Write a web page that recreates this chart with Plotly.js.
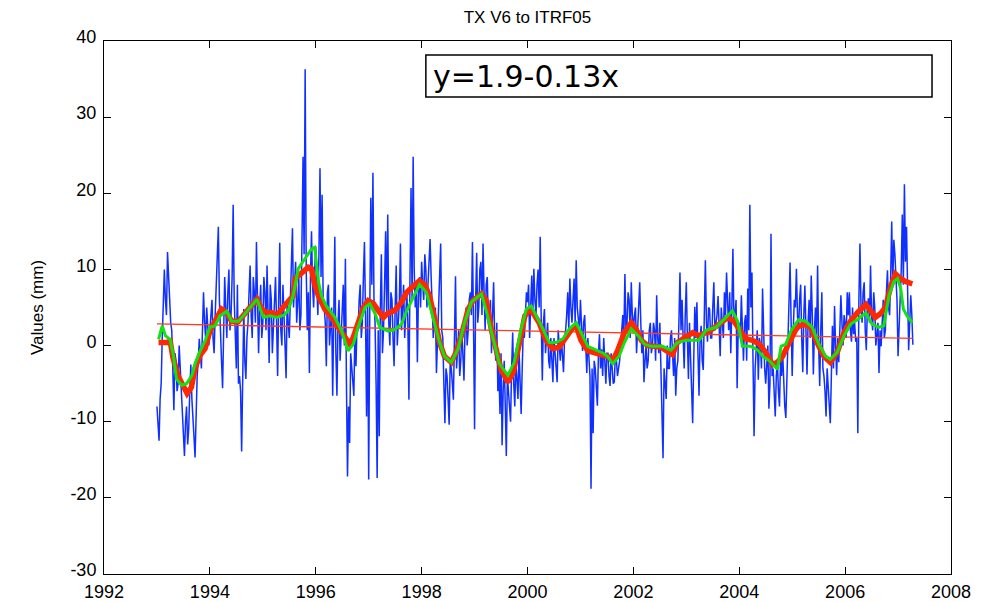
<!DOCTYPE html>
<html>
<head>
<meta charset="utf-8">
<script src="https://cdn.plot.ly/plotly-3.0.1.min.js"></script>
<style>html,body{margin:0;padding:0;background:#fff;}#chart{width:1000px;height:602px;}</style>
</head>
<body>
<div id="chart"></div>
<script>
// ---- data ----
var chartTitle = 'TX V6 to ITRF05';
var yAxisTitle = 'Values (mm)';
var fitLabel = 'y=1.9-0.13x';

var xTicks = [1992, 1994, 1996, 1998, 2000, 2002, 2004, 2006, 2008];
var xTickLabels = ['1992', '1994', '1996', '1998', '2000', '2002', '2004', '2006', '2008'];
var yTicks = [-30, -20, -10, 0, 10, 20, 30, 40];
var yTickLabels = ['-30', '-20', '-10', '0', '10', '20', '30', '40'];

// raw series: first sample time and sampling step (years)
var blueStart = 1993.0;
var blueStep = 0.04;
// samples at blueStart + i*blueStep
var blueValues = [
  // 1993
  -8, -12.5, -5, 5, 6, 12.3, 7, 2, -8.5, -2, -5, -3, -9.5, -14.5, -8, -11, -2.5, -9, -14.7, -4, 0.9, -3, 7, 1, 3,
  // 1994
  2, 6, -1, 8, 15.6, 3, -5.6, 9, 1, 10, 4, 18.5, 2, 8, -4, -13.9, 4.8, -4.4, 3, 10.5, 1, 7, 13.6, -1, 8,
  // 1995
  3, 7, 10.5, -2.3, 6, 2, 9, -4, 13.5, 0, 5, -4.3, 3, 6, 15.4, 8, 3, 8.8, 4, 24.8, 36.3, 2, -3.6, 15, 5,
  // 1996
  13, 4, 23.3, 19.8, 5, -2.7, 8, 2, -6.6, 14.3, -6.6, 6, 2, 8, 11.4, -17.2, -12.8, -3, -6.6, -2.7, 2, 8, 3, 13.6, -9.3,
  // 1997
  -17.6, 19.4, 22.7, 3, -17.4, -11.9, 12, 2, 15, 17.2, 0, 6, -2.7, 10.5, 3, 13.4, 5, 1, 7, -7.1, 20.7, 24.8, 5, -2.2, 9,
  // 1998
  11, 6, 10, 8, 14, 6, 3, -3.6, 4, 13.4, 1, -10.2, -4, -10.4, -3, -7.1, 9.1, -1, -4, 2, -4.6, 5, 2, 7, 13.6,
  // 1999
  -11, 12.2, 5, 11, 13.4, 2, 9, 4, -1, 8.3, -2, -6, -9, -13.1, -2, -14.5, -6, -10, 1.7, -8, -4.4, -0.4, -9, 2, 4,
  // 2000
  5.7, 1, 9.2, 10.1, 4, 10, 14.3, -4.6, 4.8, 1, -2, 1, -4.8, -1, -4.8, 0, 1, -3.5, 2, 7, 8.8, 3, 8.8, 11.2, 3,
  // 2001
  6, -0.7, 4, -3.6, -2, -18.8, -11.5, -3, -7.9, 1.5, -0.5, 1, -5, -1, -5.3, -3, -4.8, -2, -3, 0, 4, 9.4, 3, 6, 8.3,
  // 2002
  2, 5, 2, 8.3, -1, -4.8, 0, -2, 3, 0, 2, 6.6, -1, -3, -14.8, -5, 0, -3, 2, -4, -6.6, -2, 9.6, 6, -3,
  // 2003
  8.3, -4.4, -1, -10.2, 5.1, 5.7, -6.6, 2.6, -3.2, 11.2, 0.5, 4.8, 1, 8.3, 3, 6.5, -1.4, 2, 7, 9.6, 2, -1, 12.7, 4, -5.6,
  // 2004
  3, 6.6, -2, 4, 7.5, 18.5, 9.6, -11.9, -1, -4.5, 0, 7.5, -3, -2, -8.3, 14.7, -3, -9.3, -2, -8, -4, -6, -9.5, 2, 10.9,
  // 2005
  -4, 6, 10.1, 2, 8, -3.5, 7.9, -3.8, 6, 9.2, -3.8, 5, 10.5, -5.3, 7, -4, -9.3, -6, -10.2, 2.6, 5.2, -3.9, -2.2, 6.6, 0,
  // 2006
  3, 7, 7, 0.5, 1.5, 0.5, -11.5, 13.4, 3, 8.3, -0.6, 6.2, 10.5, 2, 5, 2, -3.6, -0.1, 6, 2, 9.9, 4, 16.3, 13.9, 9.4,
  // 2007
  -1.4, 5, 17.2, 21.2, 15.6, -0.6, 6.6, 0.1
];
// in-between samples at blueStart + (i + 0.5)*blueStep
var blueMidValues = [
  // 1993
  -11, -7, 1, 10, 4, 9, 3, -6, -1, -6, 0, -7, -12, -10, -13, -6, -7, -12, -8, -2, -1, 2, 3, 5, 0,
  // 1994
  5, 1, 4, 10, 6, -2, 3, 5, 7, 2, 9, 6, -3, -5, -6, 0, -2, 1, 7, 4, 9, 3, 6, 5, 1,
  // 1995
  9, 2, 4, 8, -1, 7, 3, 6, 2, 8, 0, 6, 1, 12, 5, 11, 6, 2, 14, 12, 10, 7, 9, 8, 10,
  // 1996
  8, 12, 9, 6, 3, 7, 0, 5, 4, -1, 3, -2, 6, 0, -5, -8, -1, -5, 2, 3, 6, 1, 9, 4, 6,
  // 1997
  4, 8, 6, -5, 2, 5, -1, 8, 4, 3, 7, 1, 5, 0, 6, 2, 8, 4, 3, 9, 6, 10, 8, 7, 5,
  // 1998
  8, 12, 5, 11, 9, 1, 5, 1, 7, 2, -5, -3, -7, -2, -5, 1, -3, 2, -2, -1, 2, 0, 6, 4, 3,
  // 1999
  6, 3, 10, 4, 7, 8, 3, 6, 4, 1, 3, -3, -1, -6, -8, -4, -9, -3, -5, -2, -7, -5, -3, 1, 7,
  // 2000
  8, 6, 4, 6, 8, 5, 3, 3, -1, 3, -3, -2, 1, -3, 2, -2, -1, 1, 4, 2, 5, 6, 3, 5, 2,
  // 2001
  2, 3, 0, 1, -4, -3, -2, -5, -1, -3, -4, -2, -1, -4, -1, -5, -1, -4, -2, 3, 1, 2, 7, 1, 4,
  // 2002
  4, -1, 6, 3, 2, -2, -3, 2, -1, 3, -2, 1, 3, -6, -3, -7, -3, 1, -2, 1, -3, 3, 2, 1, 4,
  // 2003
  1, 3, -5, -2, 1, -1, 1, -2, 4, 3, 5, 1, 5, 2, 4, 3, 5, 1, 4, 5, 7, 5, 3, 6, 2,
  // 2004
  1, 2, 3, -2, 2, 5, -2, -3, 2, 1, -3, 1, -5, 0, -5, -4, -6, -4, -6, -2, -1, -8, -4, 4, 3,
  // 2005
  2, 5, 4, 6, 1, 4, 2, 3, 1, 4, 2, 1, 0, 2, -3, -6, -3, -8, -4, -3, 0, 1, 2, 3, 4,
  // 2006
  1, 4, 2, 5, 3, 1, 6, 5, 7, 2, 5, 3, 4, 7, 0, 3, 2, 4, 1, 7, 5, 9, 8, 12, 6,
  // 2007
  3, 10, 8, 11, 7, 3, 4
];

var redYears = [1993.03,1993.19,1993.25,1993.3,1993.4,1993.5,1993.57,1993.65,1993.72,1993.81,1993.91,1994.0,1994.1,1994.22,1994.32,1994.41,1994.54,1994.67,1994.76,1994.89,1994.98,1995.07,1995.17,1995.27,1995.38,1995.48,1995.57,1995.61,1995.7,1995.86,1995.92,1995.98,1996.05,1996.17,1996.3,1996.42,1996.55,1996.64,1996.71,1996.8,1996.9,1996.99,1997.09,1997.18,1997.28,1997.37,1997.49,1997.62,1997.72,1997.84,1997.96,1998.06,1998.15,1998.25,1998.34,1998.43,1998.56,1998.65,1998.75,1998.88,1998.97,1999.13,1999.22,1999.32,1999.41,1999.5,1999.63,1999.73,1999.85,1999.95,2000.06,2000.14,2000.22,2000.35,2000.48,2000.6,2000.73,2000.86,2000.92,2001.01,2001.14,2001.26,2001.39,2001.51,2001.61,2001.7,2001.83,2001.96,2002.05,2002.15,2002.27,2002.4,2002.52,2002.74,2002.83,2002.99,2003.12,2003.24,2003.43,2003.62,2003.78,2003.9,2004.03,2004.12,2004.25,2004.38,2004.5,2004.63,2004.72,2004.82,2004.91,2005.01,2005.09,2005.22,2005.35,2005.47,2005.6,2005.72,2005.85,2005.98,2006.1,2006.23,2006.39,2006.48,2006.57,2006.67,2006.76,2006.86,2006.95,2007.05,2007.14,2007.27];
var redValues = [0.4,0.4,0.6,-1.5,-4.0,-5.5,-6.3,-5.5,-3.0,-1.3,-0.4,1.9,3.4,4.8,4.3,3.2,3.2,4.3,5.0,6.1,4.8,4.3,4.3,4.0,5.0,5.7,6.5,8.8,9.4,10.3,10.1,8.0,6.5,4.8,3.7,2.4,1.1,0.2,1.1,2.9,5.0,5.9,5.5,4.6,3.7,4.3,4.6,5.7,7.0,7.8,8.5,8.0,6.5,3.4,0.4,-1.4,-2.2,-0.9,1.3,4.8,5.9,6.8,5.9,2.0,-0.9,-3.1,-4.8,-3.5,0.4,3.9,4.8,4.0,3.0,0.7,-0.4,-0.2,1.1,2.4,2.6,0.7,-0.7,-0.9,-1.1,-1.4,-2.0,-0.7,1.7,3.0,2.2,0.7,0.0,-0.2,-0.2,-1.2,0.4,1.1,1.7,1.3,1.9,2.8,3.7,3.2,1.9,0.9,0.7,0.2,-0.9,-2.5,-2.2,-1.4,-0.1,1.1,2.4,2.8,2.4,0.4,-1.4,-2.2,-0.9,1.7,3.2,4.3,5.4,4.6,3.7,4.2,5.0,7.7,9.4,8.8,8.4,8.1];

var greenYears = [1993.03,1993.1,1993.16,1993.25,1993.31,1993.37,1993.47,1993.56,1993.66,1993.72,1993.81,1993.91,1994.0,1994.1,1994.19,1994.32,1994.41,1994.54,1994.63,1994.76,1994.89,1995.01,1995.14,1995.26,1995.4,1995.48,1995.57,1995.67,1995.8,1995.92,1995.98,1996.05,1996.11,1996.2,1996.36,1996.49,1996.61,1996.71,1996.8,1996.93,1997.02,1997.12,1997.21,1997.37,1997.49,1997.62,1997.72,1997.96,1998.09,1998.25,1998.34,1998.43,1998.56,1998.69,1998.81,1998.94,1999.13,1999.22,1999.35,1999.47,1999.63,1999.75,1999.88,1999.98,2000.07,2000.13,2000.29,2000.41,2000.54,2000.67,2000.79,2000.92,2001.01,2001.14,2001.3,2001.43,2001.51,2001.61,2001.73,2001.83,2001.96,2002.09,2002.21,2002.33,2002.46,2002.55,2002.71,2002.83,2002.99,2003.12,2003.24,2003.37,2003.56,2003.75,2003.87,2003.97,2004.06,2004.22,2004.35,2004.44,2004.57,2004.72,2004.79,2004.88,2004.98,2005.12,2005.25,2005.38,2005.5,2005.63,2005.72,2005.85,2005.98,2006.1,2006.23,2006.39,2006.51,2006.64,2006.73,2006.83,2006.92,2006.99,2007.05,2007.1,2007.17,2007.27];
var greenValues = [0.8,2.6,1.3,0.8,-1.3,-4.4,-5.2,-5.0,-3.9,-2.4,-0.8,0.6,2.4,2.6,3.9,4.5,3.2,3.2,3.9,5.0,6.1,3.7,3.9,3.7,4.0,4.6,6.5,10.1,11.4,12.7,12.9,8.4,6.5,5.2,3.7,1.9,-0.7,0.2,2.4,5.0,5.5,4.2,2.4,1.9,2.1,2.8,4.6,8.0,7.0,3.0,0.4,-1.4,-2.2,-0.4,3.0,5.7,6.8,4.6,1.1,-2.4,-3.9,-2.2,2.2,4.8,5.2,4.4,2.2,0.4,0.4,0.9,2.2,3.0,1.7,-0.1,-0.6,-1.0,-1.4,-2.4,-1.4,0.4,2.2,1.3,0.2,-0.1,-0.1,-0.1,-0.6,0.4,0.7,0.7,0.7,2.0,2.4,3.7,4.6,3.2,-0.1,-0.1,-0.6,-1.4,-2.0,-3.1,-0.1,0.2,2.0,3.4,3.2,2.4,0.2,-1.4,-1.8,-0.9,1.3,2.8,3.4,4.3,2.8,2.4,2.6,6.6,8.4,8.8,7.5,4.8,3.9,3.0];

var trendYears = [1993.0, 2007.28];
var trendValues = [2.85, 0.95];

// ---- build ----
var blueYears = [], blueSeries = [];
blueValues.forEach(function (v, i) {
  blueYears.push(Math.round((blueStart + i * blueStep) * 1000) / 1000);
  blueSeries.push(v);
  if (i < blueMidValues.length) {
    blueYears.push(Math.round((blueStart + (i + 0.5) * blueStep) * 1000) / 1000);
    blueSeries.push(blueMidValues[i]);
  }
});

var FONT = 'Liberation Sans, Arial, sans-serif';

var traces = [
  { x: blueYears, y: blueSeries, type: 'scatter', mode: 'lines',
    line: { color: 'rgb(16,48,255)', width: 1.5 } },
  { x: trendYears, y: trendValues, type: 'scatter', mode: 'lines',
    line: { color: 'rgb(255,60,30)', width: 1.3 } },
  { x: redYears, y: redValues, type: 'scatter', mode: 'lines',
    line: { color: 'rgb(255,40,0)', width: 5.5 } },
  { x: greenYears, y: greenValues, type: 'scatter', mode: 'lines',
    line: { color: 'rgb(20,225,20)', width: 3 } }
];

var axisCommon = {
  showline: true, linecolor: '#000', linewidth: 1, mirror: 'ticks',
  ticks: 'inside', ticklen: 7, tickwidth: 1, tickcolor: '#000',
  showgrid: false, zeroline: false,
  tickfont: { family: FONT, size: 18, color: '#000' }
};

var layout = {
  width: 1000, height: 602,
  margin: { l: 104, r: 49, t: 41, b: 28, pad: 0 },
  paper_bgcolor: '#fff', plot_bgcolor: '#fff',
  showlegend: false,
  title: { text: chartTitle, font: { family: FONT, size: 17, color: '#000' },
           x: 0.5275, xanchor: 'center', y: 0.972, yanchor: 'middle', xref: 'container', yref: 'container' },
  xaxis: Object.assign({}, axisCommon, { range: [1992, 2008], tickmode: 'array', tickvals: xTicks, ticktext: xTickLabels,
           ticklabelstandoff: 1 }),
  yaxis: Object.assign({}, axisCommon, { range: [-30, 40], tickmode: 'array', tickvals: yTicks, ticktext: yTickLabels,
           ticklabelstandoff: 3, ticklabelshift: -4,
           title: { text: yAxisTitle, font: { family: FONT, size: 17, color: '#000' }, standoff: 22 } }),
  shapes: [
    { type: 'rect', xref: 'paper', yref: 'paper', x0: 0.380, x1: 0.9776, y0: 0.895, y1: 0.9737,
      line: { color: '#000', width: 1.5 }, fillcolor: '#fff', layer: 'above' }
  ],
  annotations: [
    { xref: 'paper', yref: 'paper', x: 0.386, y: 0.934, xanchor: 'left', yanchor: 'middle',
      text: fitLabel, showarrow: false, font: { family: 'DejaVu Sans, sans-serif', size: 30, color: '#000' } }
  ]
};

Plotly.newPlot('chart', traces, layout, { displayModeBar: false, staticPlot: true });
</script>
</body>
</html>
